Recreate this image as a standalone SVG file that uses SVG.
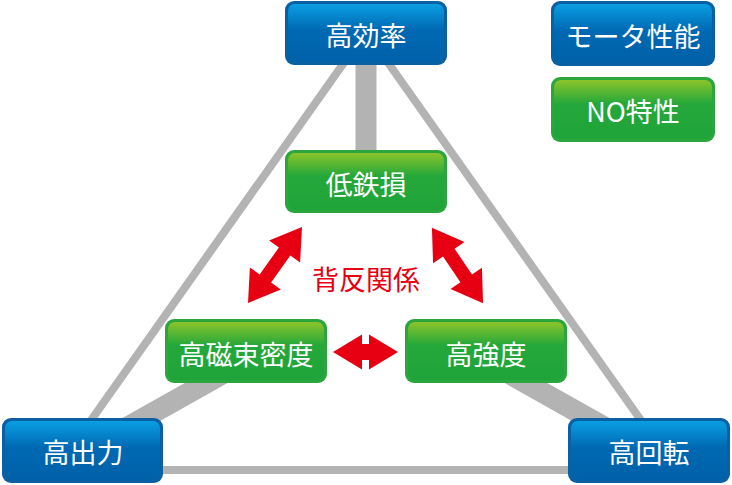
<svg xmlns="http://www.w3.org/2000/svg" width="732" height="485" viewBox="0 0 732 485">
<defs>
<linearGradient id="gBlue" x1="0" y1="0" x2="0" y2="1">
<stop offset="0" stop-color="#0a9ee2"/>
<stop offset="0.45" stop-color="#0069b3"/>
<stop offset="1" stop-color="#0061a8"/>
</linearGradient>
<linearGradient id="gGreen" x1="0" y1="0" x2="0" y2="1">
<stop offset="0" stop-color="#8bc42c"/>
<stop offset="0.4" stop-color="#25a83a"/>
<stop offset="1" stop-color="#1fa43a"/>
</linearGradient>
</defs>
<style>
.thin{stroke:#b3b3b3;stroke-width:8;fill:none}
.thick{stroke:#b3b3b3;stroke-width:21;fill:none}
.bOut{fill:#0b5fa3}
.bIn{fill:url(#gBlue)}
.gOut{fill:#2aa63c}
.gIn{fill:url(#gGreen)}
.lbl{font-family:"Noto Sans CJK JP","Noto Sans",sans-serif;font-size:27px;fill:#ffffff;text-anchor:middle}
.red{fill:#e60012}
.redT{font-family:"Noto Sans CJK JP","Noto Sans",sans-serif;font-size:27px;fill:#e60012;text-anchor:middle}
</style>
<g id="connectors">
<line class="thin" x1="360" y1="40" x2="70" y2="450"/>
<line class="thin" x1="372" y1="40" x2="662" y2="450"/>
<line class="thin" x1="100" y1="470" x2="640" y2="470"/>
<line class="thick" x1="366" y1="50" x2="366" y2="170"/>
<line class="thick" x1="263" y1="351" x2="87" y2="450"/>
<line class="thick" x1="469" y1="351" x2="645" y2="450"/>
</g>
<g id="n-efficiency">
<rect class="bOut" x="285" y="1" width="162" height="64" rx="9"/>
<rect class="bIn" x="288" y="4" width="156" height="58" rx="7"/>
<text class="lbl" x="366" y="46">高効率</text>
</g>
<g id="n-output">
<rect class="bOut" x="2" y="418" width="161" height="65" rx="9"/>
<rect class="bIn" x="5" y="421" width="155" height="59" rx="7"/>
<text class="lbl" x="83" y="463">高出力</text>
</g>
<g id="n-rotation">
<rect class="bOut" x="568" y="418" width="162" height="65" rx="9"/>
<rect class="bIn" x="571" y="421" width="156" height="59" rx="7"/>
<text class="lbl" x="649" y="463">高回転</text>
</g>
<g id="n-ironloss">
<rect class="gOut" x="285" y="150" width="162" height="63" rx="9"/>
<rect class="gIn" x="288" y="153" width="156" height="57" rx="7"/>
<text class="lbl" x="366" y="195">低鉄損</text>
</g>
<g id="n-flux">
<rect class="gOut" x="165" y="319" width="162" height="64" rx="9"/>
<rect class="gIn" x="168" y="322" width="156" height="58" rx="7"/>
<text class="lbl" x="246" y="365">高磁束密度</text>
</g>
<g id="n-strength">
<rect class="gOut" x="405" y="319" width="162" height="64" rx="9"/>
<rect class="gIn" x="408" y="322" width="156" height="58" rx="7"/>
<text class="lbl" x="486" y="365">高強度</text>
</g>
<g id="legend-motor">
<rect class="bOut" x="551" y="1" width="164" height="65" rx="9"/>
<rect class="bIn" x="554" y="4" width="158" height="59" rx="7"/>
<text class="lbl" x="633" y="47">モータ性能</text>
</g>
<g id="legend-no">
<rect class="gOut" x="551" y="77" width="164" height="65" rx="9"/>
<rect class="gIn" x="554" y="80" width="158" height="59" rx="7"/>
<text class="lbl" x="633" y="122">NO特性</text>
</g>
<g id="tradeoff">
<polygon class="red" transform="translate(275,265) rotate(-54.6)" points="46.6,0 16.6,-19 16.6,-7 -16.6,-7 -16.6,-19 -46.6,0 -16.6,19 -16.6,7 16.6,7 16.6,19"/>
<polygon class="red" transform="translate(457.5,265.5) rotate(55.8)" points="45.5,0 15.5,-19 15.5,-7 -15.5,-7 -15.5,-19 -45.5,0 -15.5,19 -15.5,7 15.5,7 15.5,19"/>
<polygon class="red" transform="translate(365.5,352)" points="32.5,0 3.5,-17.5 3.5,-8 -3.5,-8 -3.5,-17.5 -32.5,0 -3.5,17.5 -3.5,8 3.5,8 3.5,17.5"/>
<text class="redT" x="366" y="290">背反関係</text>
</g>
</svg>
